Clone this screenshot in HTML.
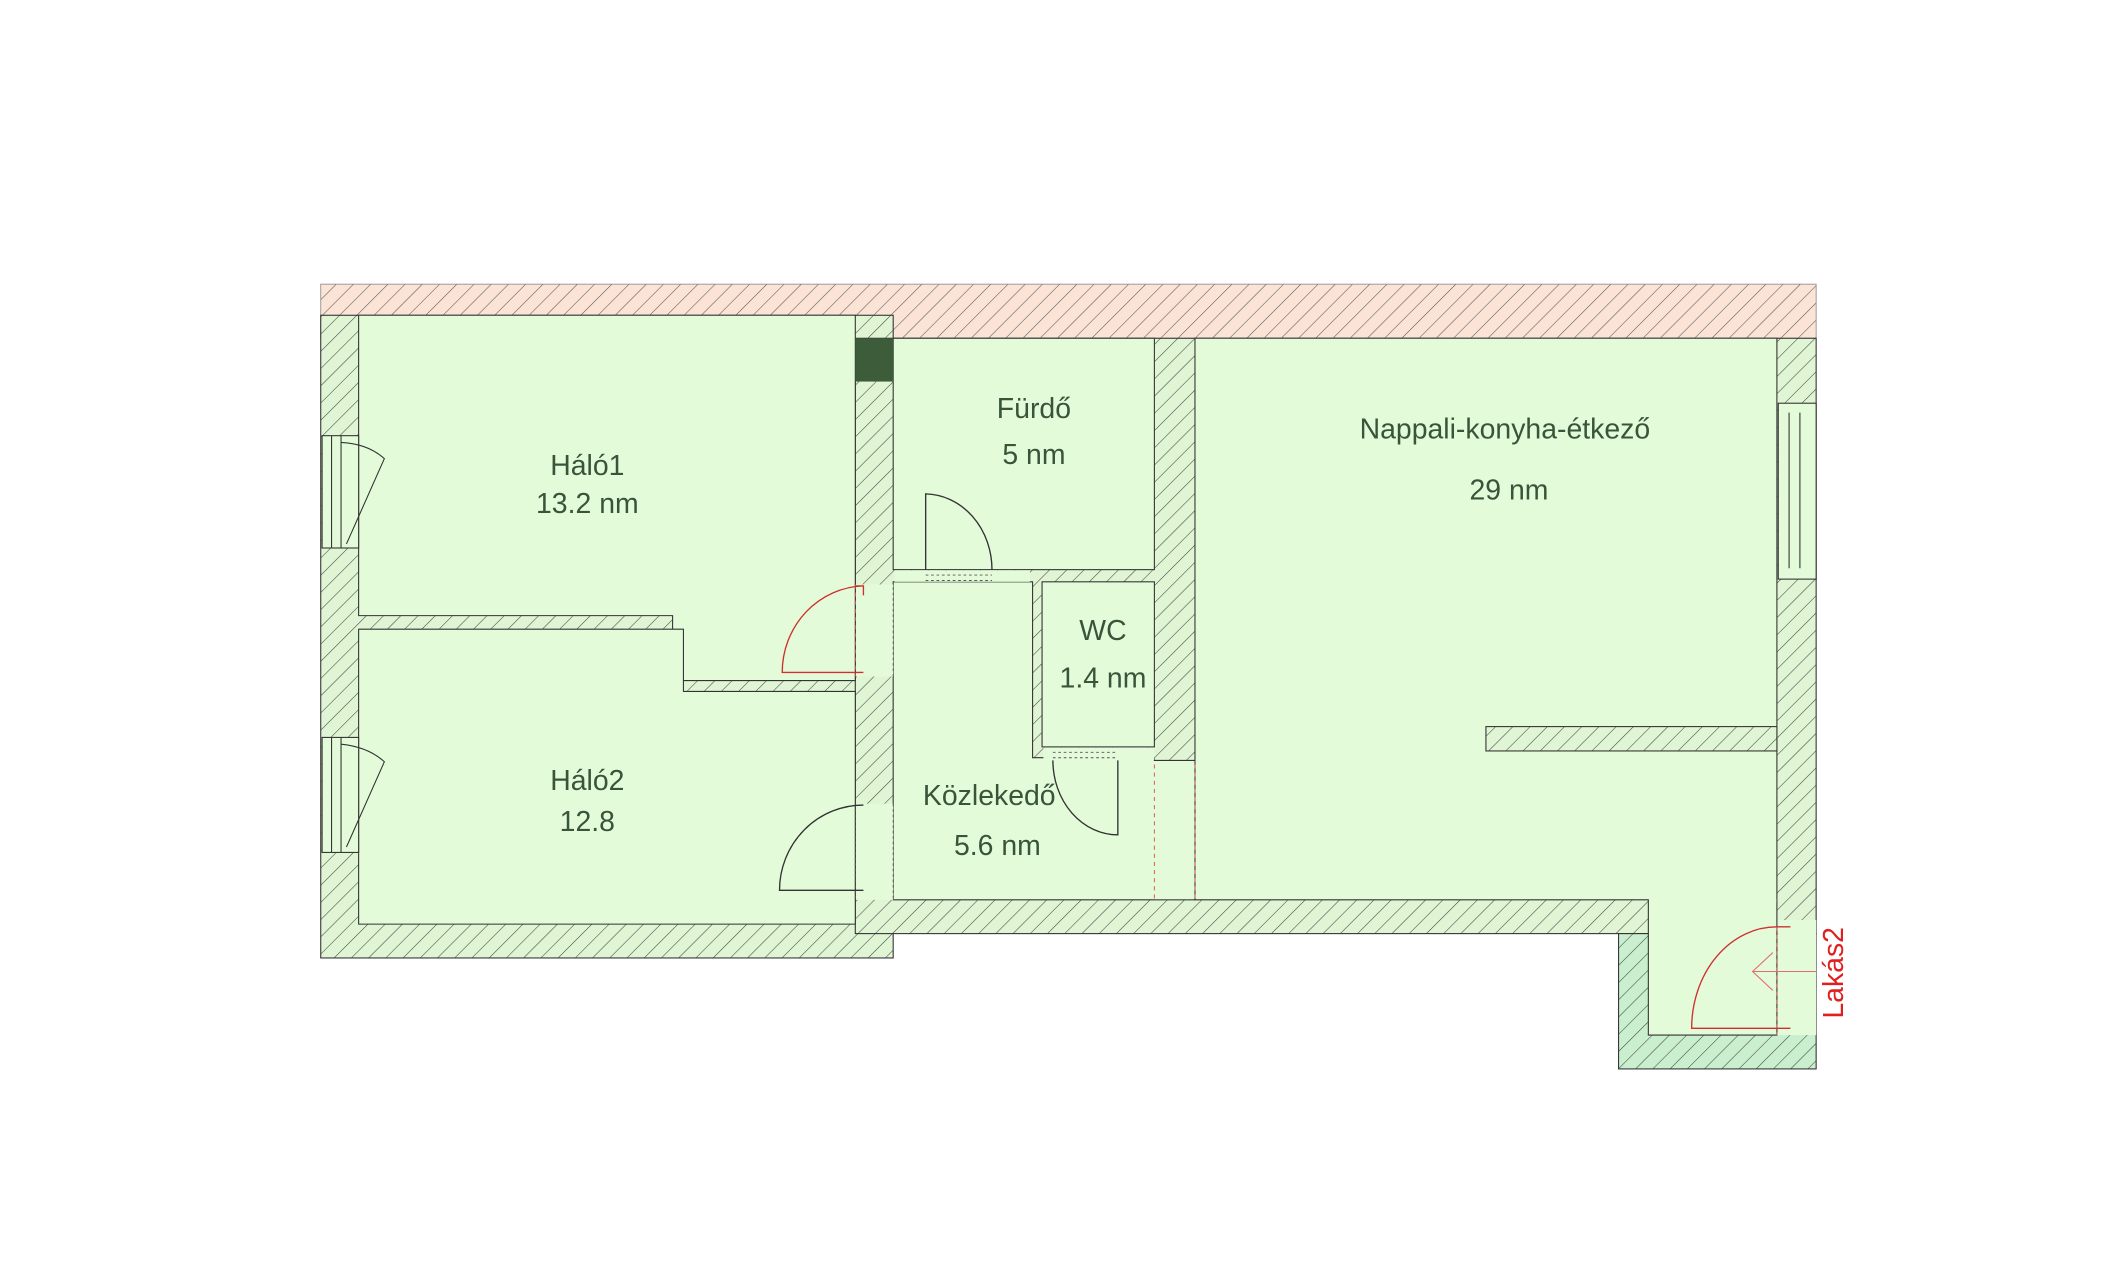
<!DOCTYPE html>
<html><head><meta charset="utf-8"><style>
html,body{margin:0;padding:0;background:#fff;}
svg{display:block;}
text{font-family:"Liberation Sans",sans-serif;fill:#38543a;}
</style></head><body>
<svg width="2122" height="1280" viewBox="0 0 1568 946" preserveAspectRatio="none" xmlns="http://www.w3.org/2000/svg">
<defs>
<pattern id="h" patternUnits="userSpaceOnUse" width="9" height="9" patternTransform="rotate(45)">
<rect width="9" height="9" fill="#dff5d4"/><line x1="0" y1="0" x2="0" y2="9" stroke="#444" stroke-width="0.8"/></pattern>
<pattern id="hp" patternUnits="userSpaceOnUse" width="9" height="9" patternTransform="rotate(45)">
<rect width="9" height="9" fill="#fbe4d6"/><line x1="0" y1="0" x2="0" y2="9" stroke="#555" stroke-width="0.8"/></pattern>
<pattern id="hg" patternUnits="userSpaceOnUse" width="9" height="9" patternTransform="rotate(45)">
<rect width="9" height="9" fill="#c9efcf"/><line x1="0" y1="0" x2="0" y2="9" stroke="#444" stroke-width="0.8"/></pattern>
</defs>
<rect width="1568" height="946" fill="#fff"/>
<rect x="237" y="210" width="1105" height="40" fill="url(#hp)" stroke="#888" stroke-width="0.6"/>
<rect x="237" y="233" width="423" height="475" fill="url(#h)" stroke="#333" stroke-width="0.8"/>
<rect x="632" y="250" width="710" height="440" fill="url(#h)" stroke="#333" stroke-width="0.8"/>
<rect x="1196" y="690" width="146" height="100" fill="url(#hg)" stroke="#333" stroke-width="0.8"/>
<g fill="#e4fbd9" stroke="#333" stroke-width="0.8">
<polygon points="265,233 632,233 632,503 497,503 497,455 265,455"/>
<polygon points="265,465 505,465 505,511 632,511 632,683 265,683"/>
<rect x="660" y="250" width="193" height="171"/>
<polygon points="660,430 763,430 763,560 853,560 853,562 883,562 883,665 660,665"/>
<polygon points="883,250 1313,250 1313,765 1218,765 1218,665 883,665"/>
<rect x="770" y="430" width="83" height="122"/>
</g>
<rect x="1098" y="537" width="215" height="18" fill="url(#h)" stroke="#333" stroke-width="0.8"/>
<rect x="632" y="250" width="28" height="32" fill="#3d5c3a"/>
<g fill="#e4fbd9" stroke="none">
<rect x="632.5" y="432" width="27.5" height="68"/>
<rect x="632.5" y="594" width="27.5" height="71"/>
<rect x="661" y="421.5" width="100" height="8.5"/>
<rect x="771" y="552.5" width="82" height="9"/>
<rect x="853.5" y="562.5" width="29" height="102"/>
<rect x="1313.5" y="680" width="28.5" height="85"/>
<rect x="1218.5" y="664" width="94" height="3"/>
</g>
<g stroke="#555" stroke-width="0.7" stroke-dasharray="2,2" fill="none">
<line x1="684" y1="425" x2="733" y2="425"/><line x1="684" y1="429" x2="733" y2="429"/>
<line x1="778" y1="556" x2="826" y2="556"/><line x1="778" y1="560" x2="826" y2="560"/>
<line x1="660" y1="430" x2="660" y2="665"/>
</g>
<g stroke="#e05050" stroke-width="0.7" stroke-dasharray="3,3" fill="none">
<line x1="632" y1="432" x2="632" y2="500"/>
<line x1="853" y1="565" x2="853" y2="665"/><line x1="883" y1="565" x2="883" y2="665"/>
<line x1="1313" y1="685" x2="1313" y2="765"/>
</g>
<line x1="632" y1="594" x2="632" y2="665" stroke="#555" stroke-width="0.7" stroke-dasharray="2,2"/>
<path d="M638,433 A62,64 0 0 0 578,497 L638,497 M632,433 L638,433 L638,440" stroke="#d03030" stroke-width="1" fill="none"/>
<path d="M638,595 A62,63 0 0 0 576,658 L638,658" stroke="#333" stroke-width="1" fill="none"/>
<path d="M684,421 L684,365 A50,56 0 0 1 733,421" stroke="#333" stroke-width="1" fill="none"/>
<path d="M778,562 A48,55 0 0 0 826,617 L826,562" stroke="#333" stroke-width="1" fill="none"/>
<path d="M1323,685 L1313,685 A63,75 0 0 0 1250,760 L1323,760" stroke="#d03030" stroke-width="1" fill="none"/>
<path d="M1342,718 L1295,718 M1310,704 L1295,718 L1310,732" stroke="#e07070" stroke-width="0.8" fill="none"/>
<g stroke="#333" stroke-width="0.8" fill="#e4fbd9">
<rect x="238" y="322" width="27" height="83"/>
<rect x="238" y="545" width="27" height="85"/>
<rect x="1314" y="298" width="28" height="130"/>
</g>
<g stroke="#333" stroke-width="0.8" fill="none">
<line x1="245" y1="322" x2="245" y2="405"/><line x1="252" y1="322" x2="252" y2="405"/>
<path d="M252,327 Q272,328 284,339 L256,402"/>
<line x1="245" y1="545" x2="245" y2="630"/><line x1="252" y1="545" x2="252" y2="630"/>
<path d="M252,550 Q272,552 284,563 L256,626"/>
<line x1="1322" y1="305" x2="1322" y2="420"/><line x1="1330" y1="305" x2="1330" y2="420"/>
</g>
<g font-size="21" text-anchor="middle">
<text x="434" y="351">Háló1</text>
<text x="434" y="379">13.2 nm</text>
<text x="434" y="584">Háló2</text>
<text x="434" y="614">12.8</text>
<text x="764" y="309">Fürdő</text>
<text x="764" y="343">5 nm</text>
<text x="815" y="473">WC</text>
<text x="815" y="508">1.4 nm</text>
<text x="731" y="595">Közlekedő</text>
<text x="737" y="632">5.6 nm</text>
<text x="1112" y="324">Nappali-konyha-étkező</text>
<text x="1115" y="369">29 nm</text>
</g>
<text x="0" y="0" font-size="21" text-anchor="middle" transform="translate(1362,719) rotate(-90)" style="fill:#e02020">Lakás2</text>
</svg>
</body></html>
